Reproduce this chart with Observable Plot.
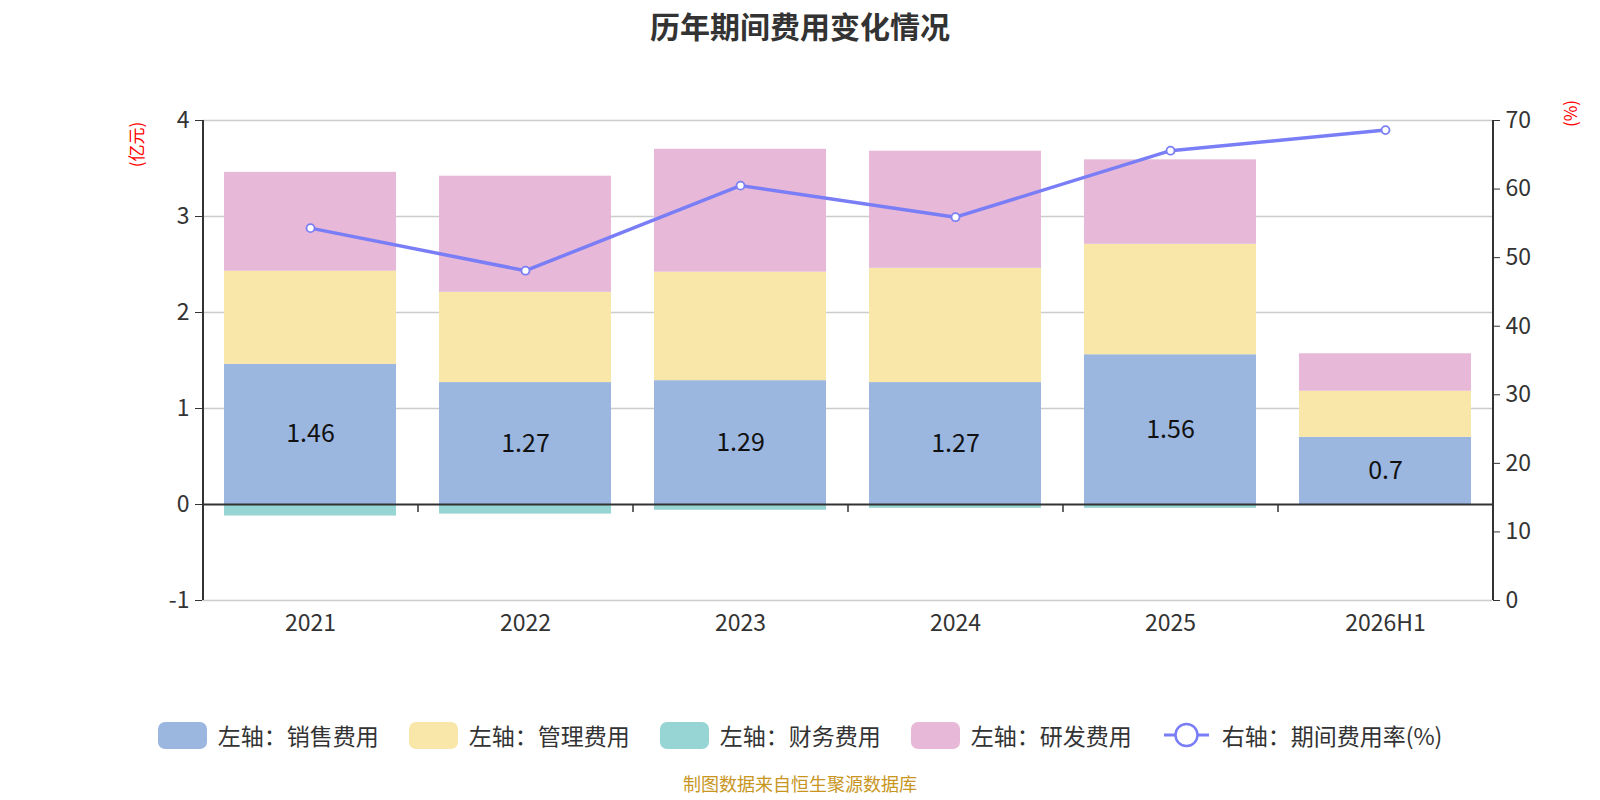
<!DOCTYPE html>
<html><head><meta charset="utf-8">
<script src="https://cdn.jsdelivr.net/npm/d3@7"></script>
<script src="https://cdn.jsdelivr.net/npm/@observablehq/plot@0.6"></script>
<style>
body{margin:0;background:#fff;font-family:"Noto Sans CJK SC","Noto Sans",sans-serif;}
#wrap{position:relative;width:1600px;height:800px;overflow:hidden;}
#title{position:absolute;top:3px;left:0;width:1600px;text-align:center;font-size:30px;font-weight:bold;color:#333;}
#chart{position:absolute;top:60px;left:0;}
.unit{position:absolute;color:#f00;font-size:17px;white-space:nowrap;transform:rotate(-90deg);transform-origin:center center;}
#legend{position:absolute;top:717px;left:0;width:1600px;display:flex;justify-content:center;gap:30px;font-size:23px;color:#333;}
.item{display:flex;align-items:center;gap:11px;height:36px;}
.sw{width:49px;height:27px;border-radius:7px;}
#caption{position:absolute;top:773px;left:0;width:1600px;text-align:center;font-size:18px;line-height:20px;color:#c8961e;}
</style></head>
<body>
<div id="wrap">
  <div id="title">历年期间费用变化情况</div>
  <div id="chart"></div>
  <div class="unit" style="left:113px;top:132px;">(亿元)</div>
  <div class="unit" style="left:1556px;top:101px;">(%)</div>
  <div id="legend"></div>
  <div id="caption">制图数据来自恒生聚源数据库</div>
</div>
<script>
const categories = ["2021","2022","2023","2024","2025","2026H1"];
const sales   = [1.46, 1.27, 1.29, 1.27, 1.56, 0.70];
const admin   = [0.97, 0.94, 1.13, 1.19, 1.15, 0.48];
const finance = [-0.12, -0.10, -0.06, -0.04, -0.04, -0.01];
const rnd     = [1.03, 1.21, 1.28, 1.22, 0.88, 0.39];
const rate    = [54.3, 48.1, 60.5, 55.9, 65.6, 68.6];
const seriesNames = ["左轴：销售费用","左轴：管理费用","左轴：财务费用","左轴：研发费用"];
const lineName = "右轴：期间费用率(%)";
const leftTicks = [-1, 0, 1, 2, 3, 4];
const rightTicks = [0, 10, 20, 30, 40, 50, 60, 70];

const colors = ["#9bb7e0","#f8e7a8","#97d4d4","#e7b8d8"];
const lineColor = "#7a7ef6";

const seriesData = [sales, admin, finance, rnd];
const rows = [];
seriesNames.forEach((s, si) => categories.forEach((c, i) => rows.push({cat: c, series: s, value: seriesData[si][i]})));
const salesRows = categories.map((c, i) => ({cat: c, value: sales[i]}));
// right axis 0..70 mapped onto left -1..4
const toLeft = p => -1 + p * 5 / 70;
const fromLeft = y => Math.round((y + 1) * 70 / 5);
const rateRows = categories.map((c, i) => ({cat: c, rate: rate[i], y: toLeft(rate[i])}));

const W = 1600, H = 600, mL = 202, mR = 108, mT = 60, mB = 60;
const step = (W - mL - mR) / categories.length;

const chart = Plot.plot({
  width: W, height: H,
  marginLeft: mL, marginRight: mR, marginTop: mT, marginBottom: mB,
  style: {fontFamily: '"Noto Sans CJK SC","Noto Sans",sans-serif', fontSize: "22px", color: "#333", background: "#fff"},
  x: {type: "band", domain: categories, paddingInner: 0.2, paddingOuter: 0.1, axis: null},
  y: {domain: [-1, 4], axis: null},
  color: {domain: seriesNames, range: colors},
  marks: [
    Plot.ruleY(leftTicks.filter(d => d !== 0), {stroke: "#cccccc", strokeWidth: 1.5}),
    Plot.barY(rows, {x: "cat", y: "value", fill: "series", order: seriesNames}),
    Plot.ruleY([0], {stroke: "#333", strokeWidth: 2}),
    Plot.ruleX(categories.slice(0, -1), {x: d => d, y1: 0, y2: 0, insetBottom: -8, dx: step / 2, stroke: "#333", strokeWidth: 1.5}),
    Plot.ruleX([categories[0]], {x: d => d, y1: -1, y2: 4, dx: -step / 2, stroke: "#333", strokeWidth: 2}),
    Plot.ruleX([categories[categories.length - 1]], {x: d => d, y1: -1, y2: 4, dx: step / 2, stroke: "#333", strokeWidth: 2}),
    Plot.axisY(leftTicks, {anchor: "left", tickSize: 7, tickPadding: 6, stroke: "#333", fontSize: 23, fill: "#333", label: null, tickFormat: d => String(d)}),
    Plot.axisY(rightTicks.map(toLeft), {anchor: "right", tickSize: 7, tickPadding: 6, stroke: "#333", fontSize: 23, fill: "#333", label: null, tickFormat: d => String(fromLeft(d))}),
    Plot.axisX(categories, {anchor: "bottom", tickSize: 0, tickPadding: 14, fontSize: 23, fill: "#333", label: null}),
    Plot.text(salesRows, {x: "cat", y: d => d.value / 2, text: d => String(d.value), fontSize: 25, fill: "#111"}),
    Plot.line(rateRows, {x: "cat", y: "y", stroke: lineColor, strokeWidth: 3.5}),
    Plot.dot(rateRows, {x: "cat", y: "y", r: 4, fill: "#fff", stroke: lineColor, strokeWidth: 1.8})
  ]
});
document.getElementById("chart").appendChild(chart);

const legend = document.getElementById("legend");
seriesNames.forEach((s, i) => {
  const it = document.createElement("div"); it.className = "item";
  it.innerHTML = `<div class="sw" style="background:${colors[i]}"></div><span>${s}</span>`;
  legend.appendChild(it);
});
const li = document.createElement("div"); li.className = "item";
li.innerHTML = `<svg width="49" height="32"><line x1="2" y1="16" x2="47" y2="16" stroke="${lineColor}" stroke-width="3"/><circle cx="24.5" cy="16" r="11" fill="#fff" stroke="${lineColor}" stroke-width="2.5"/></svg><span>${lineName}</span>`;
legend.appendChild(li);
</script>
</body></html>
